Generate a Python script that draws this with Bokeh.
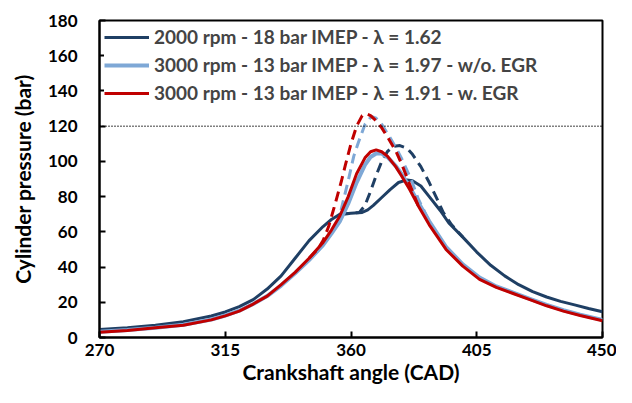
from bokeh.plotting import figure
from bokeh.models import Range1d, FixedTicker, Legend, LegendItem, Span
from bokeh.embed import file_html
from bokeh.resources import INLINE

# --- data ---
x_ticks = [270, 315, 360, 405, 450]
y_ticks = [0, 20, 40, 60, 80, 100, 120, 140, 160, 180]
limit_pressure = 120

dark_x = [270, 280, 290, 300, 310, 315, 320, 325, 330, 335, 340, 345, 350, 353, 356, 360, 364, 366, 368, 371, 374, 377, 380, 382, 385, 388, 392, 395, 400, 405, 410, 415, 420, 425, 430, 435, 440, 445, 450]
dark_y = [4.5, 5.5, 7, 9, 12.2, 14.5, 17.5, 21.5, 27.5, 35, 45, 55, 63, 67, 70, 70.5, 71, 72.5, 75, 79.5, 84, 88, 89.5, 89, 86, 80, 72, 65, 57, 48.5, 41, 35, 30, 26, 23, 20.5, 18.5, 16.5, 14.6]

dark_dash_x = [356, 360, 363, 365, 367, 369, 371, 373, 375, 377.5, 380, 382, 385, 388, 391, 393, 396, 400]
dark_dash_y = [70, 70.5, 71, 75, 83, 92, 100, 105.5, 108.5, 109, 107.5, 104, 97, 88, 78, 71, 64, 57]

light_x = [270, 280, 290, 300, 310, 315, 320, 325, 330, 335, 340, 345, 350, 353, 356, 359, 362, 365, 367, 369, 371, 373, 376, 378, 381, 384, 388, 394, 400, 406, 412, 418, 424, 430, 436, 442, 450]
light_y = [3.2, 4.2, 5.6, 7.2, 10.2, 12.5, 15.2, 19, 23.5, 29.5, 36.5, 44, 52.5, 59, 66, 76, 88, 98, 102.5, 104.5, 104.5, 102.5, 97.5, 93, 85.5, 77, 66, 51.5, 41.5, 34, 29, 25.5, 22, 18.5, 15.5, 13, 10]

light_dash_x = [348, 351, 353, 355.5, 357, 359, 361, 362.7, 365, 367.3, 369, 371, 373.4, 376, 378, 380, 381.7, 384, 388]
light_dash_y = [49, 55, 60, 66, 76, 89, 103, 111, 121, 125.5, 124.5, 121, 115, 108, 102, 95, 89, 79, 66]

red_x = [270, 280, 290, 300, 310, 315, 320, 325, 330, 335, 340, 345, 350, 353, 356, 359, 362, 365, 367, 369, 371, 373, 376, 378, 381, 384, 388, 394, 400, 406, 412, 418, 424, 430, 436, 442, 450]
red_y = [3, 4, 5.5, 7, 10, 12.3, 15, 19, 23.5, 30, 37, 45, 54, 61, 69, 80, 93, 102, 105.5, 106.5, 105.5, 103, 97, 92, 84, 75, 64, 50, 40.5, 33, 28.5, 25, 21.5, 18, 15, 12.5, 9.5]

red_dash_x = [345, 348, 350, 352, 354, 356.6, 358, 360, 362, 364, 365.5, 367, 369, 371, 373, 376, 378, 380, 382, 384]
red_dash_y = [45, 50, 55, 63, 74, 89, 98, 110, 120, 126, 127, 126, 123, 119, 114, 106, 99, 91, 83, 75]

labels = ["2000 rpm - 18 bar IMEP - \u03bb = 1.62",
          "3000 rpm - 13 bar IMEP - \u03bb = 1.97 - w/o. EGR",
          "3000 rpm - 13 bar IMEP - \u03bb = 1.91 - w. EGR"]

DARK = "#1F3F64"
LIGHT = "#7EA8D6"
RED = "#C00000"
FONT = "Lato"

p = figure(width=616, height=387, output_backend="svg", toolbar_location=None,
           x_range=Range1d(270, 450), y_range=Range1d(0, 180),
           min_border_left=99, min_border_right=14, min_border_top=20, min_border_bottom=50)
p.grid.visible = False
p.outline_line_color = "black"
p.outline_line_width = 2
p.background_fill_color = "white"

for ax in (p.xaxis[0], p.yaxis[0]):
    ax.axis_line_width = 2
    ax.axis_line_color = "black"
    ax.major_tick_in = 6
    ax.major_tick_out = 0
    ax.major_tick_line_width = 2
    ax.minor_tick_line_color = None
    ax.major_label_text_font = FONT
    ax.major_label_text_font_style = "bold"
    ax.major_label_text_font_size = "17px"
    ax.major_label_text_color = "black"
    ax.axis_label_text_font = FONT
    ax.axis_label_text_font_style = "bold"
    ax.axis_label_text_font_size = "21px"
    ax.axis_label_text_color = "black"

p.xaxis.ticker = FixedTicker(ticks=x_ticks)
p.yaxis.ticker = FixedTicker(ticks=y_ticks)
p.xaxis.axis_label = "Crankshaft angle (CAD)"
p.yaxis.axis_label = "Cylinder pressure (bar)"
p.xaxis.major_label_standoff = 6
p.yaxis.major_label_standoff = 22
p.xaxis.axis_label_standoff = 0
p.yaxis.axis_label_standoff = 10

p.add_layout(Span(location=limit_pressure, dimension="width", line_color="black",
                  line_width=1.5, line_dash="1 2"))

lw = 3
r_dark = p.line(dark_x, dark_y, line_color=DARK, line_width=lw)
p.line(dark_dash_x, dark_dash_y, line_color=DARK, line_width=lw, line_dash="10 6")
r_light = p.line(light_x, light_y, line_color=LIGHT, line_width=lw + 1)
p.line(light_dash_x, light_dash_y, line_color=LIGHT, line_width=lw, line_dash="10 6")
r_red = p.line(red_x, red_y, line_color=RED, line_width=lw)
p.line(red_dash_x, red_dash_y, line_color=RED, line_width=lw, line_dash="10 6")

legend = Legend(items=[LegendItem(label=labels[0], renderers=[r_dark]),
                       LegendItem(label=labels[1], renderers=[r_light]),
                       LegendItem(label=labels[2], renderers=[r_red])],
                location="top_left")
legend.border_line_color = None
legend.background_fill_alpha = 1
legend.margin = 5
legend.padding = 9
legend.glyph_width = 45
legend.glyph_height = 20
legend.label_height = 20
legend.spacing = 5
legend.label_standoff = 5
legend.label_text_font = FONT
legend.label_text_font_style = "bold"
legend.label_text_font_size = "19px"
p.add_layout(legend)

open("out.html", "w").write(file_html(p, INLINE))
